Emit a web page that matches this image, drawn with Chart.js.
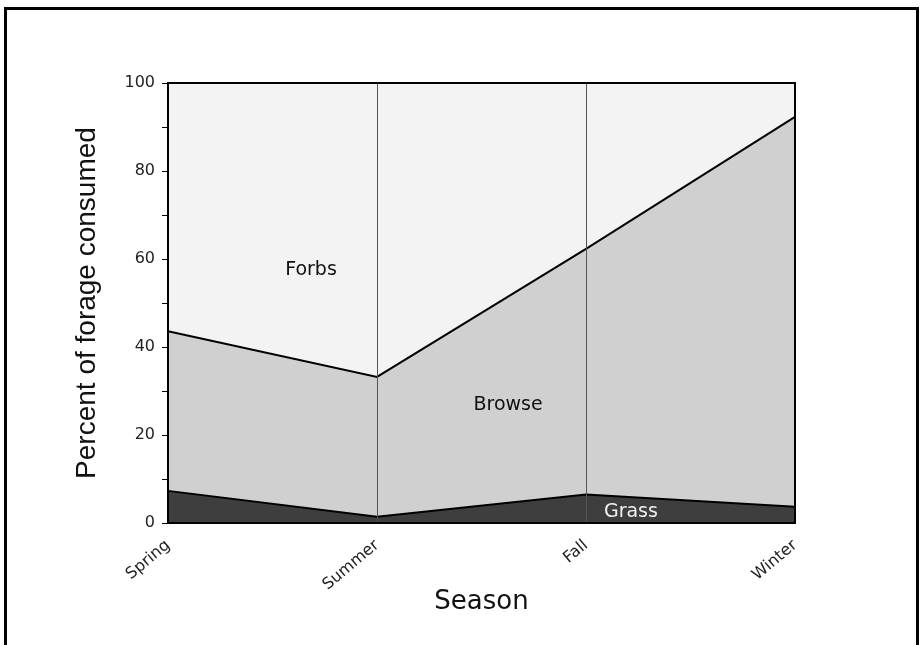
<!DOCTYPE html>
<html>
<head>
<meta charset="utf-8">
<script src="https://cdn.jsdelivr.net/npm/chart.js@4.4.1/dist/chart.umd.min.js"></script>
<style>
  html, body { margin: 0; padding: 0; background: #fff; }
  #wrap { position: relative; width: 921px; height: 645px; overflow: hidden; }
  #frame { position: absolute; left: 4px; top: 7px; width: 909px; height: 700px;
           border-left: 3px solid #000; border-top: 3px solid #000; border-right: 3px solid #000; }
  canvas { position: absolute; left: 0; top: 0; }
</style>
</head>
<body>
<div id="wrap">
  <div id="frame"></div>
  <canvas id="c" width="921" height="645"></canvas>
</div>
<script>
// ---- data ----
const seasons = ['Spring', 'Summer', 'Fall', 'Winter'];
const grass   = [7.3, 1.4, 6.5, 3.7];
const browse  = [36.3, 31.8, 55.8, 88.6];
const forbs   = [56.4, 66.8, 37.7, 7.7];
const yTicks  = [0, 20, 40, 60, 80, 100];

const FONT = "'DejaVu Sans', sans-serif";

const areaLabels = {
  id: 'areaLabels',
  afterDraw(chart) {
    const { ctx, scales: { x, y }, chartArea } = chart;
    ctx.save();
    ctx.strokeStyle = '#000';
    ctx.lineWidth = 2;
    ctx.strokeRect(chartArea.left, chartArea.top, chartArea.right - chartArea.left, chartArea.bottom - chartArea.top);
    ctx.font = '19px ' + FONT;
    ctx.textAlign = 'center';
    ctx.textBaseline = 'middle';
    const items = [
      { t: 'Forbs',  xi: 0.684, yv: 57.5, c: '#111' },
      { t: 'Browse', xi: 1.627, yv: 26.8, c: '#111' },
      { t: 'Grass',  xi: 2.215, yv: 2.5,  c: '#f0f0f0' }
    ];
    items.forEach(it => {
      ctx.fillStyle = it.c;
      ctx.fillText(it.t, x.getPixelForValue(it.xi), y.getPixelForValue(it.yv));
    });
    ctx.restore();
  }
};

new Chart(document.getElementById('c'), {
  type: 'line',
  data: {
    labels: seasons,
    datasets: [
      { label: 'Grass', data: grass, fill: 'origin', backgroundColor: '#3e3e3e',
        borderColor: '#000', borderWidth: 2, pointRadius: 0, tension: 0 },
      { label: 'Browse', data: browse, fill: '-1', backgroundColor: '#d0d0d0',
        borderColor: '#000', borderWidth: 2, pointRadius: 0, tension: 0 },
      { label: 'Forbs', data: forbs, fill: '-1', backgroundColor: '#f3f3f3',
        borderColor: 'rgba(0,0,0,0)', borderWidth: 0, pointRadius: 0, tension: 0 }
    ]
  },
  options: {
    responsive: false,
    animation: false,
    layout: { padding: { left: 0, top: 83, right: 126, bottom: 0 } },
    plugins: { legend: { display: false }, tooltip: { enabled: false } },
    scales: {
      x: {
        offset: false,
        grid: { color: '#555', lineWidth: 1, drawTicks: false, z: 1 },
        border: { color: '#000', width: 2, z: 1 },
        ticks: { color: '#222', font: { family: FONT, size: 16 }, minRotation: 40, maxRotation: 40, padding: 13 },
        title: { display: true, text: 'Season', color: '#111', font: { family: FONT, size: 26 }, padding: { top: 0, bottom: 27 } },
        afterFit(s) { s.height = 122; }
      },
      y: {
        stacked: true,
        min: 0, max: 100,
        grid: { drawOnChartArea: false, drawTicks: true, tickLength: 6, color: '#000' },
        border: { color: '#000', width: 2 },
        ticks: {
          stepSize: 10,
          color: '#222',
          font: { family: FONT, size: 16 },
          padding: 7,
          callback: v => yTicks.includes(v) ? String(v) : ''
        },
        title: { display: true, text: 'Percent of forage consumed', color: '#111',
                 font: { family: "'Liberation Sans', Arial, sans-serif", size: 28 }, padding: { top: 70, bottom: 0 } },
        afterFit(s) { s.width = 168; }
      }
    }
  },
  plugins: [areaLabels]
});
</script>
</body>
</html>
